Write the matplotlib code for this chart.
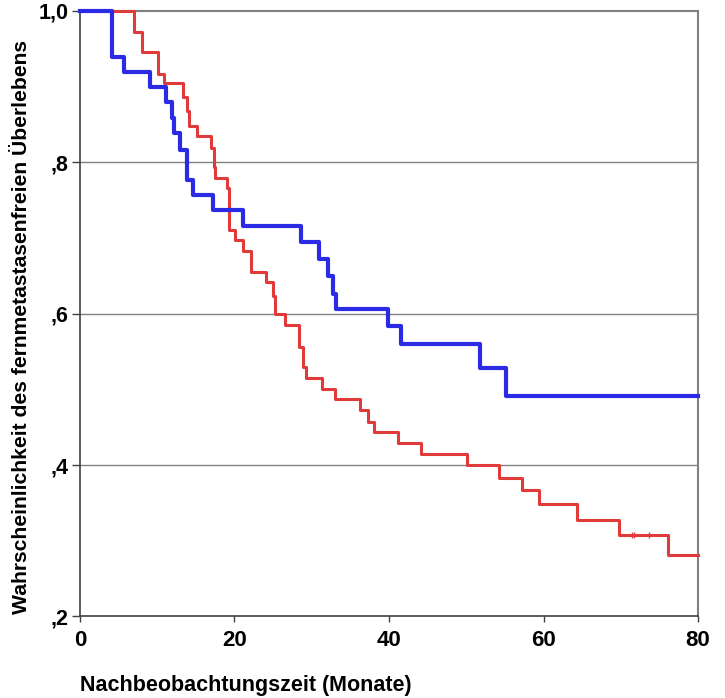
import matplotlib
matplotlib.use("Agg")
import matplotlib.pyplot as plt

plt.rcParams['font.family'] = ['Liberation Sans', 'DejaVu Sans']
plt.rcParams['font.weight'] = 'bold'

# Kaplan-Meier Kurven
blau_t = [0, 4.1, 5.7, 9.1, 11.1, 11.9, 12.2, 13.0, 13.9, 14.6, 17.2, 21.1, 28.6,
          31.0, 32.1, 32.8, 33.1, 39.9, 41.6, 51.8, 55.2, 80]
blau_s = [1.0, 0.939, 0.919, 0.899, 0.879, 0.858, 0.838, 0.816, 0.776, 0.757, 0.737,
          0.716, 0.694, 0.672, 0.649, 0.626, 0.606, 0.583, 0.560, 0.528, 0.491, 0.491]

rot_t = [0, 7.0, 8.0, 10.1, 10.9, 13.4, 13.8, 14.1, 15.1, 17.0, 17.3, 17.5, 19.0,
         19.3, 20.1, 21.1, 22.1, 24.1, 25.0, 25.2, 26.5, 28.4, 28.9, 29.3, 31.3,
         33.0, 36.2, 37.3, 38.0, 41.2, 44.1, 50.1, 54.2, 57.2, 59.4, 64.3, 69.8,
         76.1, 80]
rot_s = [1.0, 0.972, 0.945, 0.917, 0.905, 0.886, 0.868, 0.848, 0.835, 0.818, 0.793,
         0.779, 0.766, 0.710, 0.697, 0.682, 0.655, 0.642, 0.623, 0.600, 0.585,
         0.556, 0.530, 0.515, 0.500, 0.487, 0.473, 0.457, 0.444, 0.429, 0.415,
         0.400, 0.383, 0.367, 0.349, 0.328, 0.308, 0.281, 0.281]

# zensierte Fälle (rot)
zens_t = [71.4, 71.7, 73.7]
zens_s = [0.308, 0.308, 0.308]

x_ticks = [0, 20, 40, 60, 80]
y_ticks = [0.2, 0.4, 0.6, 0.8, 1.0]
y_labels = [',2', ',4', ',6', ',8', '1,0']

fig = plt.figure(figsize=(7.25, 6.98), dpi=100)
ax = fig.add_axes([0.1103, 0.1168, 0.8525, 0.8679])

for y in [0.4, 0.6, 0.8]:
    ax.axhline(y, color='#808080', lw=1.0, zorder=1)

ax.step(rot_t, rot_s, where='post', color='#E03A3A', lw=2.2, zorder=3, clip_on=False)
ax.step(blau_t, blau_s, where='post', color='#2B2BE6', lw=3.0, zorder=4, clip_on=False)
ax.plot(zens_t, zens_s, ls='none', marker='|', ms=5, mew=1.0, color='#E03A3A', zorder=3)

ax.set_xlim(0, 80)
ax.set_ylim(0.2, 1.0)
ax.set_xticks(x_ticks)
ax.set_xticklabels([str(v) for v in x_ticks], fontsize=16, fontweight='bold')
ax.set_yticks(y_ticks)
ax.set_yticklabels(y_labels, fontsize=15.5, fontweight='bold')
ax.tick_params(axis='y', direction='out', length=6, width=1, color='#404040', pad=2)
ax.tick_params(axis='x', direction='out', length=4, width=1, color='#404040', pad=6)

for s in ['left', 'bottom']:
    ax.spines[s].set_color('#404040')
    ax.spines[s].set_linewidth(1.2)
for s in ['top', 'right']:
    ax.spines[s].set_color('#808080')
    ax.spines[s].set_linewidth(1.5)

fig.text(80 / 725, 1 - 685 / 698, 'Nachbeobachtungszeit (Monate)', ha='left', va='center',
         fontsize=15.5, fontweight='bold')
fig.text(22 / 725, 1 - 327 / 698, 'Wahrscheinlichkeit des fernmetastasenfreien Überlebens',
         rotation=90, ha='center', va='center', fontsize=15.2, fontweight='bold')

fig.savefig('out.png', dpi=100)
